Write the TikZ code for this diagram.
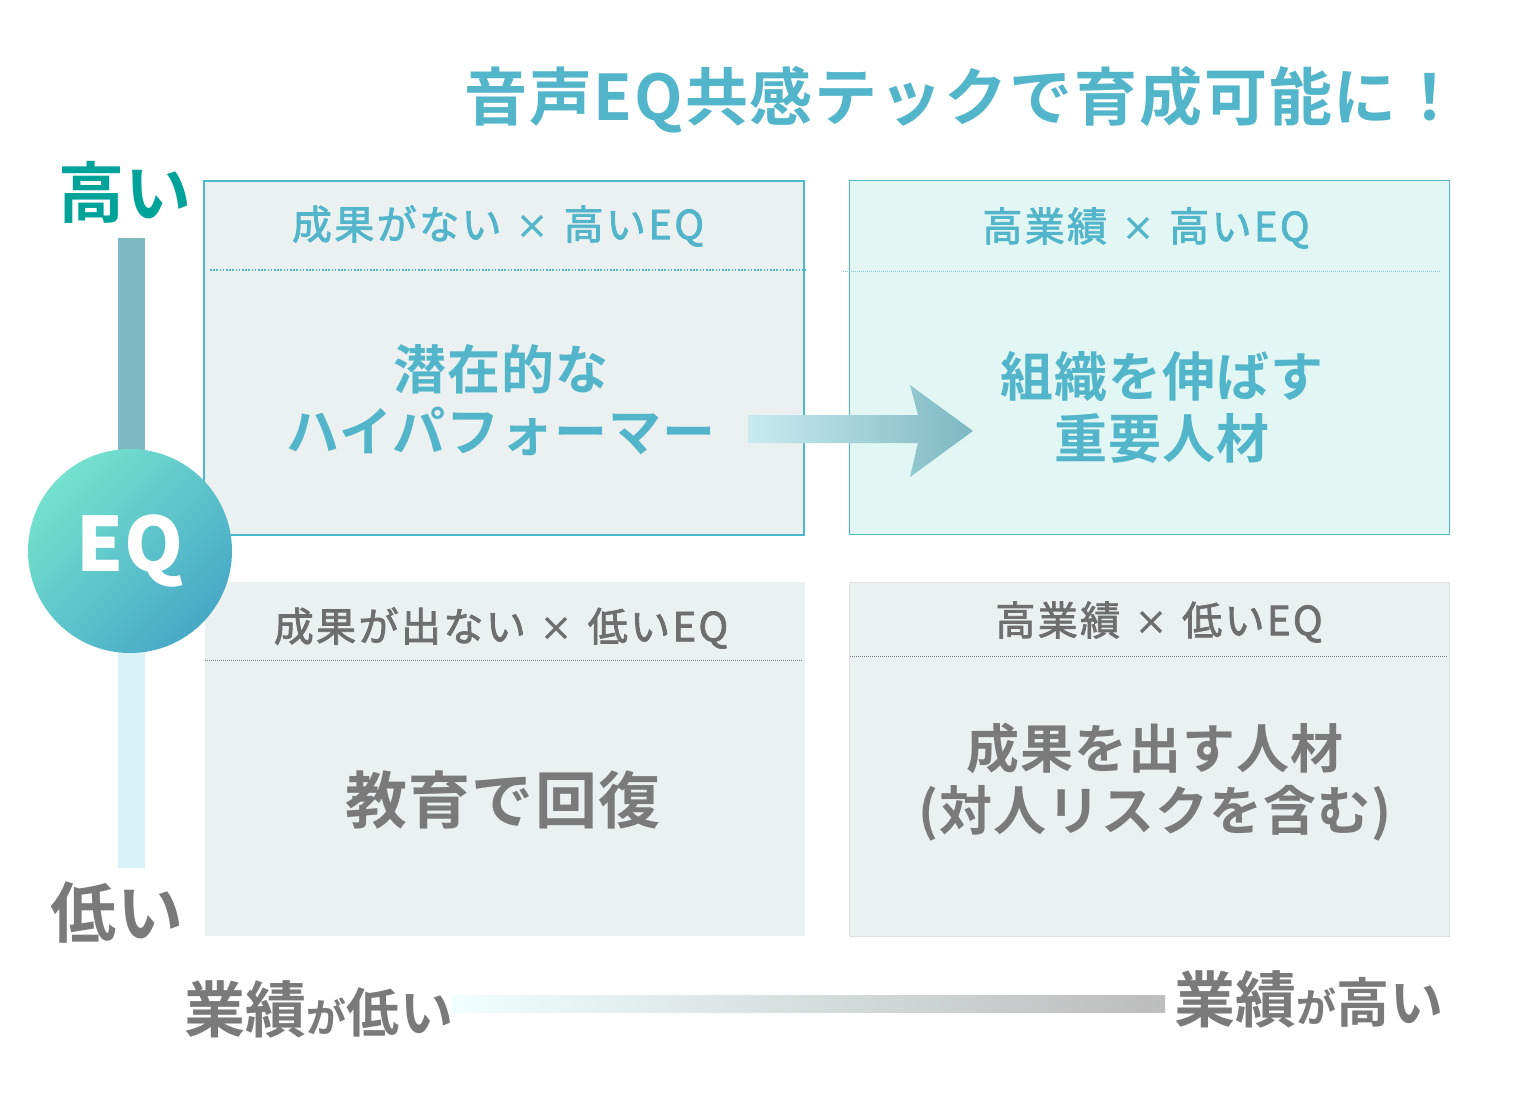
\documentclass[tikz,border=0pt]{standalone}
\usepackage{fontspec}
\setmainfont{Noto Sans CJK JP}
\newfontfamily\hdrfont{Noto Sans CJK JP}[LetterSpace=6,FakeBold=2]
\newfontfamily\ttlfont{Noto Sans CJK JP Bold}[LetterSpace=1]
\newfontfamily\titlefont{Noto Sans CJK JP Bold}[LetterSpace=3]
\newfontfamily\bigfont{Noto Sans CJK JP Bold}[LetterSpace=2]
\newcommand{\mytimes}{\hspace{14pt}{\ttlfont\fontsize{34}{34}\selectfont ×}\hspace{14pt}}
\definecolor{ttl}{HTML}{52B5C9}
\definecolor{hiteal}{HTML}{00A39A}
\definecolor{graytxt}{HTML}{7A7A7A}
\definecolor{grayhdr}{HTML}{6E6E6E}
\definecolor{boxgray}{HTML}{EBF0F1}
\definecolor{boxcyan}{HTML}{E2F6F4}
\definecolor{border}{HTML}{4DB8C9}
\definecolor{barup}{HTML}{7FBAC4}
\definecolor{bardown}{HTML}{D7F3F8}
\definecolor{arrowL}{HTML}{C9EBF0}
\definecolor{arrowR}{HTML}{7DB8C2}
\definecolor{circL}{HTML}{74E2CE}
\definecolor{circD}{HTML}{48A9C7}
\begin{document}
\begin{tikzpicture}[x=1pt,y=-1pt,
  qbox/.style={anchor=north west,inner sep=0pt,minimum width=600pt,minimum height=354pt},
  hdr/.style={font=\hdrfont\fontsize{40}{40}\selectfont},
  main/.style={font=\bigfont\fontsize{53}{62}\selectfont,align=center},
  axis/.style={font=\ttlfont,text=graytxt,inner sep=0pt}]
\useasboundingbox[fill=white] (0,0) rectangle (1534,1112);

% title
\node[font=\titlefont\fontsize{63}{63}\selectfont,text=ttl,anchor=east,inner sep=0pt] (title) at (1462,100) {音声EQ共感テックで育成可能に！};

% quadrant boxes
\node[qbox,fill=boxgray,draw=border,line width=2pt] (tl) at (203,180) {};
\node[qbox,fill=boxcyan,draw=border,line width=1pt] (tr) at (849,180) {};
\node[qbox,fill=boxgray] (bl) at (205,582) {};
\node[qbox,fill=boxgray,draw=black!12,line width=0.6pt] (br) at (849,582) {};

% dotted separators
\draw[border,line width=1.6pt,dash pattern=on 1.6pt off 1.6pt] (210,270) -- (806,270);
\draw[border!70,line width=0.6pt,dash pattern=on 1pt off 1pt] (843,271) -- (1440,271);
\draw[black!50,line width=0.6pt,dash pattern=on 1pt off 1pt] (205,660) -- (802,660);
\draw[black!50,line width=0.6pt,dash pattern=on 1pt off 1pt] (850,656) -- (1448,656);

% headers
\node[hdr,text=ttl] (tlh) at (498,226) {成果がない\mytimes 高いEQ};
\node[hdr,text=ttl] (trh) at (1146,228) {高業績\mytimes 高いEQ};
\node[hdr,text=grayhdr] (blh) at (501,628) {成果が出ない\mytimes 低いEQ};
\node[hdr,text=grayhdr] (brh) at (1159,622) {高業績\mytimes 低いEQ};

% main texts
\node[main,text=ttl] (tlm) at (501,400) {潜在的な\\ハイパフォーマー};
\node[main,text=ttl] (trm) at (1162,407) {組織を伸ばす\\重要人材};
\node[font=\bigfont\fontsize{62}{62}\selectfont,text=graytxt] (blm) at (503,800) {教育で回復};
\node[main,text=graytxt] (brm) at (1155,782) {成果を出す人材\\(対人リスクを含む)};

% arrow
\shade[left color=arrowL,right color=arrowR]
  (748,415) -- (918,415) -- (910,385) -- (973,431) -- (910,477) -- (918,443) -- (748,443) -- cycle;

% vertical axis
\fill[barup] (118,238) rectangle (145,455);
\fill[bardown] (118,645) rectangle (145,868);
\node[circle,minimum size=204pt,inner sep=0pt,top color=circL,bottom color=circD,shading angle=45,
      text=white,font=\bfseries\fontsize{75}{75}\selectfont] (eq) at (130,551) {EQ};
\node[font=\ttlfont\fontsize{66}{66}\selectfont,text=hiteal,inner sep=0pt] (hi) at (125,192) {高い};
\node[font=\ttlfont\fontsize{66}{66}\selectfont,text=graytxt,inner sep=0pt] (lo) at (117,912) {低い};

% horizontal axis
\shade[left color=black!3!cyan!6,right color=black!26] (452,995) rectangle (1165,1012);
\node[axis,anchor=base west] (perflo) at (184,1032)
  {\fontsize{61}{61}\selectfont 業績\fontsize{40}{40}\selectfont が\fontsize{53}{53}\selectfont 低い};
\node[axis,anchor=base west] (perfhi) at (1174,1022)
  {\fontsize{61}{61}\selectfont 業績\fontsize{40}{40}\selectfont が\fontsize{53}{53}\selectfont 高い};
\end{tikzpicture}
\end{document}
